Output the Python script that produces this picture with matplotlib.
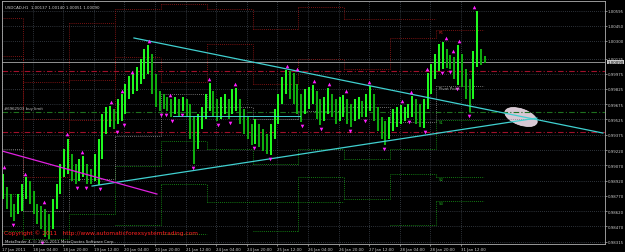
import numpy as np
import matplotlib.pyplot as plt
from matplotlib.patches import Ellipse
from matplotlib.transforms import ScaledTranslation, blended_transform_factory

# USDCAD H1 in 2-hour blocks (high / low)
highs = [0.98986, 0.98857, 0.98788, 0.98690, 0.98788, 0.98887, 0.98956, 0.98917, 0.98818, 0.98690,
         0.98670, 0.98640, 0.98591, 0.98739, 0.98887, 0.99084, 0.99232, 0.99331, 0.99183, 0.99084,
         0.99134, 0.99163, 0.99084, 0.99035, 0.99183, 0.99331, 0.99578, 0.99647, 0.99657, 0.99628,
         0.99726, 0.99776, 0.99874, 0.99953, 0.99973, 1.00042, 1.00121, 1.00220, 1.00259, 1.00170,
         0.99973, 0.99805, 0.99776, 0.99746, 0.99726, 0.99746, 0.99726, 0.99746, 0.99726, 0.99677,
         0.99548, 0.99578, 0.99647, 0.99776, 0.99884, 0.99805, 0.99726, 0.99746, 0.99776, 0.99726,
         0.99825, 0.99835, 0.99726, 0.99628, 0.99548, 0.99479, 0.99529, 0.99479, 0.99430, 0.99381,
         0.99479, 0.99628, 0.99776, 0.99943, 1.00012, 1.00002, 0.99983, 0.99874, 0.99776, 0.99825,
         0.99844, 0.99864, 0.99805, 0.99726, 0.99746, 0.99835, 0.99776, 0.99726, 0.99746, 0.99766,
         0.99726, 0.99677, 0.99726, 0.99746, 0.99706, 0.99776, 0.99854, 0.99776, 0.99647, 0.99548,
         0.99509, 0.99548, 0.99628, 0.99647, 0.99667, 0.99647, 0.99677, 0.99756, 0.99726, 0.99677,
         0.99726, 0.99983, 1.00072, 1.00170, 1.00269, 1.00289, 1.00220, 1.00160, 1.00141, 1.00259,
         1.00170, 1.00022, 0.99924, 1.00200, 1.00595, 1.00220, 1.00150]
lows = [0.98739, 0.98640, 0.98561, 0.98522, 0.98591, 0.98621, 0.98739, 0.98690, 0.98591, 0.98492,
        0.98443, 0.98364, 0.98344, 0.98443, 0.98640, 0.98788, 0.98956, 0.98986, 0.98917, 0.98887,
        0.98917, 0.98956, 0.98887, 0.98887, 0.98917, 0.98877, 0.99134, 0.99381, 0.99450, 0.99430,
        0.99479, 0.99509, 0.99578, 0.99726, 0.99776, 0.99805, 0.99874, 0.99924, 0.99973, 0.99776,
        0.99647, 0.99608, 0.99628, 0.99608, 0.99548, 0.99578, 0.99548, 0.99608, 0.99548, 0.99331,
        0.99084, 0.99232, 0.99430, 0.99529, 0.99608, 0.99548, 0.99509, 0.99529, 0.99578, 0.99529,
        0.99578, 0.99608, 0.99479, 0.99381, 0.99331, 0.99272, 0.99282, 0.99252, 0.99213, 0.99183,
        0.99173, 0.99331, 0.99479, 0.99677, 0.99776, 0.99726, 0.99677, 0.99578, 0.99499, 0.99578,
        0.99628, 0.99677, 0.99529, 0.99469, 0.99509, 0.99578, 0.99548, 0.99479, 0.99509, 0.99548,
        0.99479, 0.99450, 0.99509, 0.99529, 0.99548, 0.99548, 0.99608, 0.99509, 0.99410, 0.99331,
        0.99272, 0.99331, 0.99410, 0.99450, 0.99479, 0.99509, 0.99538, 0.99548, 0.99479, 0.99450,
        0.99440, 0.99628, 0.99776, 0.99924, 1.00002, 1.00022, 1.00032, 1.00022, 0.99924, 0.99864,
        0.99844, 0.99726, 0.99598, 0.99726, 1.00042, 1.00062, 1.00081]

# fractals (bar index in hours, price)
frac_up_bar = [1, 12, 22, 34, 42, 57, 63, 68, 77, 88, 108, 122, 149, 154, 163, 171, 180, 192,
               209, 214, 222, 232, 236, 239, 247]
frac_up_price = [0.99055, 0.98986, 0.98709, 0.99381, 0.99203, 0.99696, 0.99805, 0.99993, 1.00298,
                 0.99766, 0.99924, 0.99874, 1.00052, 1.00022, 0.99904, 0.99874, 0.99805, 0.99894,
                 0.99706, 0.99795, 1.00022, 1.00328, 1.00200, 1.00298, 1.00634]
frac_dn_bar = [6, 21, 39, 44, 51, 60, 64, 83, 86, 89, 94, 100, 113, 119, 132, 140, 157, 167,
               182, 190, 200, 213, 221, 230, 234, 238, 244]
frac_dn_price = [0.98482, 0.98305, 0.98848, 0.98848, 0.98838, 0.99400, 0.99469, 0.99568, 0.99568,
                 0.99509, 0.99568, 0.99045, 0.99469, 0.99489, 0.99242, 0.99134, 0.99460, 0.99430,
                 0.99410, 0.99509, 0.99232, 0.99499, 0.99400, 0.99983, 0.99993, 0.99825, 0.99558]

# daily pivot levels
day_start = [0, 11, 35, 59, 83, 107, 131, 155, 179, 203, 227]
day_end = 252
nan = np.nan
pivot = [0.99232, 0.98621, 0.98936, 0.99361, 0.99776, 0.99647, 0.99529, 0.99608, 0.99647, 0.99499, 0.99854]
r1 = [1.00150, 0.98956, 0.99519, 1.00141, 0.99894, 1.00269, 0.99874, 1.00121, 1.00022, 1.00328, 1.00407]
r2 = [1.00526, 0.99529, 0.99914, 1.00614, 1.00664, 1.00614, 1.00417, 1.00634, 1.00516, 1.00516, nan]
r3 = [nan, 0.99894, 1.00476, nan, nan, nan, nan, nan, nan, nan, nan]
s1 = [0.98788, 0.98344, 0.98591, 0.99065, 0.99311, 0.99232, 0.99084, 0.99232, 0.99134, 0.99232, 0.99519]
s2 = [0.98423, nan, nan, 0.98482, 0.98887, 0.98709, 0.98709, 0.98956, 0.98739, 0.98986, 0.98956]
s3 = [nan, nan, nan, nan, 0.98393, nan, 0.98423, 0.98709, nan, 0.98482, 0.98719]

# trend lines and levels
upper_h, upper_p = [69.0, 314.2], [1.00328, 0.99390]
lower_h, lower_p = [47.1, 279.7], [0.98867, 0.99538]
magenta_h, magenta_p = [0.0, 81.0], [0.99213, 0.98788]
flat_h, flat_p = [89.4, 156.0], [0.99558, 0.99558]
bid = 1.00090
red_levels = [1.00000, 0.99400]
buy_limit = 0.99598
ellipse_h, ellipse_p = 271.4, 0.99548

y_ticks = [1.00595, 1.00450, 1.00300, 1.00125, 0.99975, 0.99825, 0.99675, 0.99525, 0.99375,
           0.99220, 0.99070, 0.98920, 0.98770, 0.98620, 0.98470, 0.98315]
x_tick_pos = [0, 16, 32, 48, 64, 80, 96, 112, 128, 144, 160, 176, 192, 208, 224, 240]
x_tick_labels = ["17 Jan 2011", "18 Jan 04:00", "18 Jan 20:00", "19 Jan 12:00", "20 Jan 04:00",
                 "20 Jan 20:00", "21 Jan 12:00", "24 Jan 04:00", "24 Jan 20:00", "25 Jan 12:00",
                 "26 Jan 04:00", "26 Jan 20:00", "27 Jan 12:00", "28 Jan 04:00", "28 Jan 20:00",
                 "31 Jan 12:00"]

fs = 2.8
txt = '#d0d0d0'

fig = plt.figure(figsize=(6.25, 2.53), dpi=100, facecolor='black')
ax = fig.add_axes([2 / 625, 8 / 253, 603 / 625, 243 / 253])
ax.set_facecolor('black')
ax.set_xlim(0, 315.3)
ax.set_ylim(0.98295, 1.00693)

# grid
ax.set_yticks(y_ticks)
ax.set_yticklabels([f"{v:.5f}" for v in y_ticks])
ax.yaxis.tick_right()
ax.set_xticks(x_tick_pos)
ax.set_xticklabels(x_tick_labels)
for lab in ax.get_xticklabels():
    lab.set_horizontalalignment('left')
ax.tick_params(colors='#b0b0b0', labelcolor=txt, labelsize=fs, length=1.5, width=0.5, pad=0.4)
ax.grid(True, color='#5a6470', linestyle=(0, (1, 2)), linewidth=0.5)
for sp in ax.spines.values():
    sp.set_color('#b0b0b0')
    sp.set_linewidth(0.6)


# pivot step lines
def steps(levels, color):
    edges = day_start + [day_end]
    for i, v in enumerate(levels):
        if np.isnan(v):
            continue
        ax.hlines(v, edges[i], edges[i + 1], colors=color, linestyles=(0, (1, 1.5)), lw=0.6)
        if i + 1 < len(levels) and not np.isnan(levels[i + 1]):
            ax.vlines(edges[i + 1], min(v, levels[i + 1]), max(v, levels[i + 1]),
                      colors=color, linestyles=(0, (1, 1.5)), lw=0.6)


for lv in (r1, r2, r3):
    steps(lv, '#a01818')
for lv in (s1, s2, s3):
    steps(lv, '#18a018')
steps(pivot, '#909090')

# horizontal levels
ax.axhline(bid, color='#a8a8a8', lw=0.6)
for v in red_levels:
    ax.axhline(v, color='#a0102a', lw=0.8, linestyle=(0, (5, 2, 1, 2)))
ax.axhline(buy_limit, color='#1e701e', lw=0.8, linestyle=(0, (5, 2, 1, 2)))

# bars
bar_h = np.arange(len(highs)) * 2 + 0.5
mids = (np.array(highs) + np.array(lows)) / 2
for i in range(len(highs)):
    c = '#20ff20' if i == 0 or mids[i] >= mids[i - 1] else '#10b010'
    ax.vlines(bar_h[i], lows[i], highs[i], colors=c, lw=1.4)

# trend lines
ax.plot(upper_h, upper_p, color='#40d0d0', lw=0.9)
ax.plot(lower_h, lower_p, color='#40d0d0', lw=0.9)
ax.plot(flat_h, flat_p, color='#40d0d0', lw=0.7)
ax.plot(magenta_h, magenta_p, color='#e020e0', lw=0.9)

# fractals
ax.plot(frac_up_bar, frac_up_price, '^', color='#ff20ff', ms=2.6, mew=0)
ax.plot(frac_dn_bar, frac_dn_price, 'v', color='#ff20ff', ms=2.6, mew=0)

# ellipse
ell = Ellipse((0, 0), 0.34, 0.16, angle=-20, facecolor='#d8c8d4', edgecolor='#f0e4ec', lw=0.5,
              transform=fig.dpi_scale_trans + ScaledTranslation(ellipse_h, ellipse_p, ax.transData))
ax.add_patch(ell)

# texts
ax.text(0.005, 0.985, "USDCAD,H1  1.00137 1.00140 1.00051 1.00090", transform=ax.transAxes,
        color=txt, fontsize=fs, va='top', ha='left')
ax.text(1, buy_limit + 0.0002, "#6962503 buy limit", color='#c0c0c0', fontsize=fs, va='bottom')
lab_h = 228.5
ax.text(lab_h, r1[-1], "R1", color='#c02020', fontsize=fs, va='top')
ax.text(lab_h, pivot[-1], "Pivot Point", color='#b0b0b0', fontsize=fs, va='top')
ax.text(lab_h, s1[-1], "S1", color='#20b020', fontsize=fs, va='top')
ax.text(lab_h, s2[-1], "S2", color='#20b020', fontsize=fs, va='top')
ax.text(lab_h, s3[-1], "S3", color='#20b020', fontsize=fs, va='top')
ax.text(0.003, 0.035, "Copyright \u00a9 2011   http://www.automaticforexsystemtrading.com",
        transform=ax.transAxes, color='#ff2020', fontsize=4.2, va='bottom')
ax.text(0.005, 0.006, "MetaTrader 4, \u00a9 2001-2011 MetaQuotes Software Corp.",
        transform=ax.transAxes, color='#d0d0d0', fontsize=fs, va='bottom')

# current price box on the right scale
tr = blended_transform_factory(ax.transAxes, ax.transData)
ax.text(1.004, bid, f"{bid:.5f}", transform=tr, color='black', fontsize=fs, va='center', ha='left',
        bbox=dict(boxstyle='square,pad=0.1', facecolor='#c8c8c8', edgecolor='none'))

fig.savefig('out.png', dpi=100, facecolor='black')
